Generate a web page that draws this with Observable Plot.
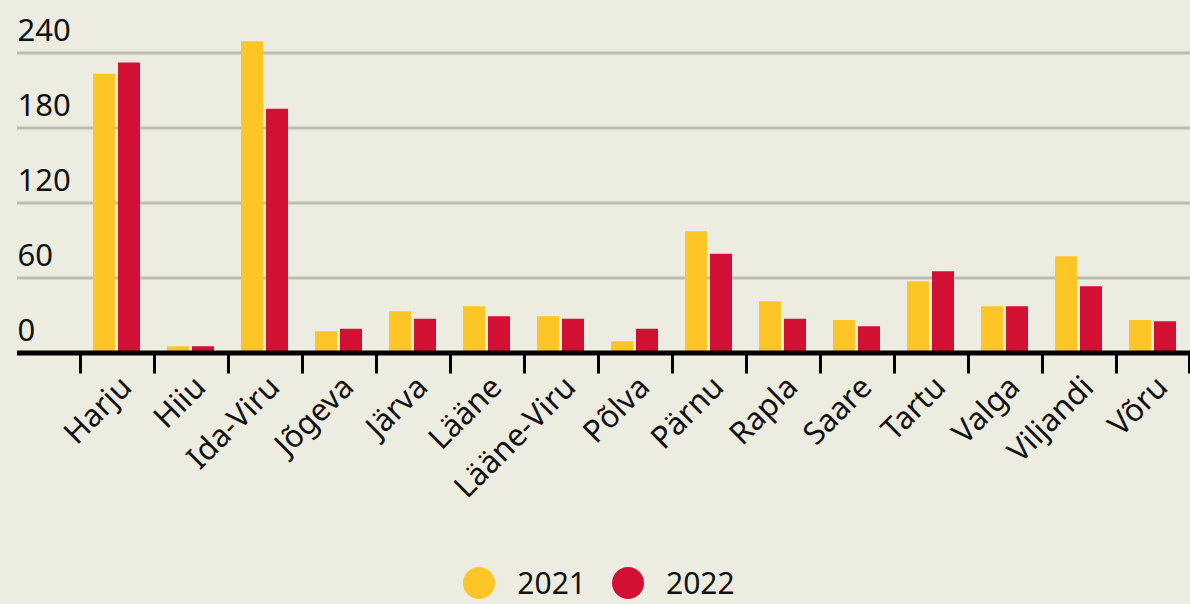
<!DOCTYPE html>
<html>
<head>
<meta charset="utf-8">
<script src="https://cdn.jsdelivr.net/npm/d3@7"></script>
<script src="https://cdn.jsdelivr.net/npm/@observablehq/plot@0.6"></script>
<style>
  html, body { margin: 0; padding: 0; background: #EDECE1; }
  body { width: 1190px; height: 604px; overflow: hidden; font-family: "Noto Sans", "Open Sans", sans-serif; }
  #legend { height: 56px; padding-top: 14px; display: flex; justify-content: center; align-items: center; font-size: 30px; line-height: 32px; color: #111; padding-left: 8px; box-sizing: border-box; }
  .item { display: flex; align-items: center; margin: 0 13px; }
  .sw { width: 32px; height: 32px; border-radius: 50%; margin-right: 22px; }
  .lbl { display: block; }
</style>
</head>
<body>
<div id="chart"></div>
<div id="legend"></div>
<script>
const counties = ["Harju","Hiiu","Ida-Viru","Jõgeva","Järva","Lääne","Lääne-Viru","Põlva","Pärnu","Rapla","Saare","Tartu","Valga","Viljandi","Võru"];
const values2021 = [223, 5, 249, 17, 33, 37, 29, 9, 97, 41, 26, 57, 37, 77, 26];
const values2022 = [232, 5, 195, 19, 27, 29, 27, 19, 79, 27, 21, 65, 37, 53, 25];
const years = ["2021", "2022"];
const yTicks = [0, 60, 120, 180, 240];
const colors = ["#FEC526", "#D21034"];

const rows2021 = counties.map((c, i) => ({county: c, year: years[0], value: values2021[i]}));
const rows2022 = counties.map((c, i) => ({county: c, year: years[1], value: values2022[i]}));

const chart = Plot.plot({
  width: 1190,
  height: 548,
  marginLeft: 17,
  marginRight: 0,
  marginTop: 0,
  marginBottom: 195.5,
  style: {background: "#EDECE1", fontFamily: "Noto Sans, Open Sans, sans-serif", color: "#111"},
  x: {type: "band", domain: counties, range: [80, 1190], padding: 0, axis: null, label: null},
  y: {domain: [0, 240], range: [352.5, 52.5], axis: null, label: null},
  marks: [
    Plot.ruleY(yTicks.filter(d => d > 0), {stroke: "#BEBCB0", strokeWidth: 3}),
    Plot.barY(rows2021, {x: "county", y: "value", fill: colors[0], insetLeft: 13, insetRight: 39}),
    Plot.barY(rows2022, {x: "county", y: "value", fill: colors[1], insetLeft: 38, insetRight: 14}),
    Plot.ruleY([0], {stroke: "#000", strokeWidth: 5}),
    Plot.axisX({ticks: counties, tickSize: 21, tickFormat: () => "", label: null, dx: -37, stroke: "#000", strokeWidth: 3}),
    Plot.axisX({ticks: counties.slice(-1), tickSize: 21, tickFormat: () => "", label: null, dx: 36, stroke: "#000", strokeWidth: 3}),
    Plot.text(yTicks, {y: d => d, text: d => String(d), frameAnchor: "left", textAnchor: "start", lineAnchor: "bottom", dy: -12, fontSize: 31, fill: "#111"}),
    Plot.text(counties, {x: d => d, text: d => d, frameAnchor: "bottom", rotate: -45, textAnchor: "end", lineAnchor: "middle", dx: 9, dy: 29, fontSize: 31, fill: "#111"})
  ]
});
document.getElementById("chart").append(chart);

const legend = document.getElementById("legend");
years.forEach((y, i) => {
  const item = document.createElement("div");
  item.className = "item";
  const sw = document.createElement("span");
  sw.className = "sw";
  sw.style.background = colors[i];
  const t = document.createElement("span");
  t.className = "lbl";
  t.textContent = y;
  item.append(sw, t);
  legend.append(item);
});
</script>
</body>
</html>
